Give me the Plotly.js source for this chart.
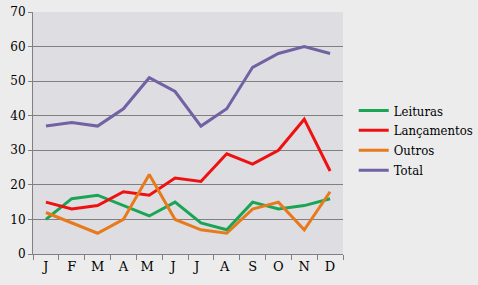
<!DOCTYPE html>
<html><head><meta charset="utf-8">
<script src="https://cdn.plot.ly/plotly-3.0.1.min.js"></script>
<style>html,body{margin:0;padding:0;background:#ececec;}#c{width:478px;height:285px;}</style>
</head><body><div id="c"></div>
<script>
const months = ["J","F","M","A","M ","J ","J  ","A ","S","O","N","D"];
const leituras = [10,16,17,14,11,15,9,7,15,13,14,16];
const lancamentos = [15,13,14,18,17,22,21,29,26,30,39,24];
const outros = [12,9,6,10,23,10,7,6,13,15,7,18];
const total = [37,38,37,42,51,47,37,42,54,58,60,58];
const names = ["Leituras","Lançamentos","Outros","Total"];
const colors = ["#1aa555","#ee1111","#e67a1c","#7262a4"];
const series = [leituras, lancamentos, outros, total];
const traces = series.map((s,i)=>({x:months,y:s,type:"scatter",mode:"lines",name:names[i],
  line:{color:colors[i],width:3}}));
const F = "'DejaVu Serif', serif";
const FL = "'DejaVu Serif Condensed', 'DejaVu Serif', serif";
const layout = {
  width:478,height:285,
  margin:{l:33,r:135,t:12,b:31,autoexpand:false},
  paper_bgcolor:"#ececec",plot_bgcolor:"#dedee2",
  font:{family:F,color:"#000"},
  xaxis:{type:"category",range:[-0.5,11.5],tickson:"boundaries",ticks:"outside",ticklen:5,tickcolor:"#808080",tickangle:0,
    showline:true,linecolor:"#808080",showgrid:false,tickfont:{family:F,size:13},fixedrange:true},
  yaxis:{range:[0,70],dtick:10,ticks:"outside",ticklen:4,tickcolor:"#808080",showline:true,linecolor:"#808080",
    gridcolor:"#808080",gridwidth:1,tickfont:{family:F,size:12},zeroline:false,fixedrange:true},
  showlegend:true,
  legend:{xref:"container",yref:"container",x:0.74,y:0.665,xanchor:"left",yanchor:"top",bgcolor:"rgba(0,0,0,0)",font:{family:FL,size:13},tracegroupgap:0,itemwidth:30}
};
Plotly.newPlot("c",traces,layout,{displayModeBar:false,staticPlot:true});
</script></body></html>
